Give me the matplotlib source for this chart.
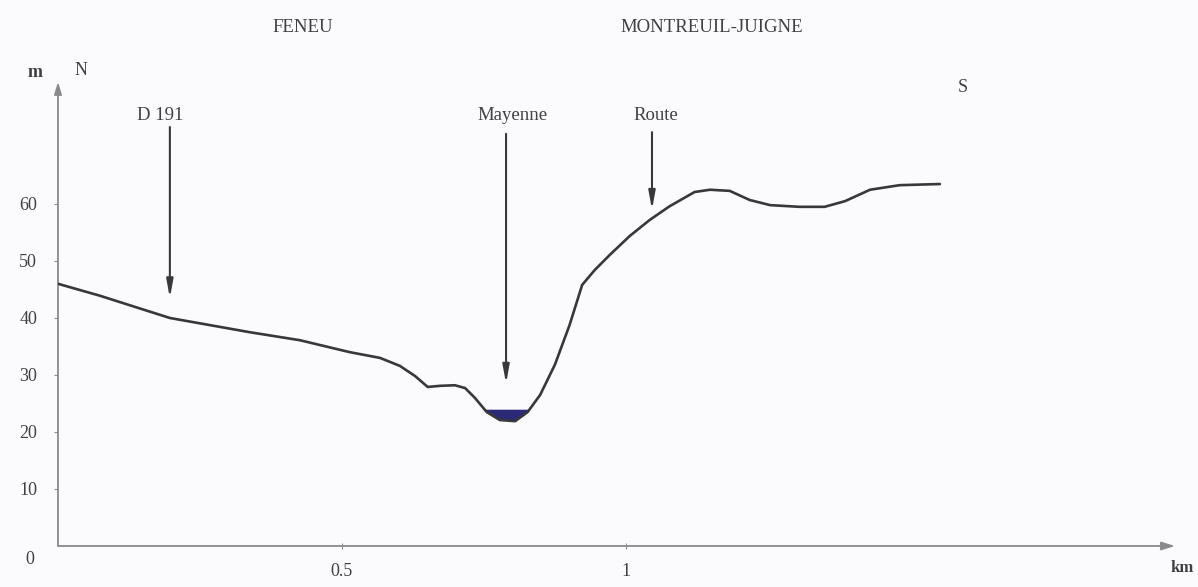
import numpy as np
import matplotlib.pyplot as plt

# ---------------------------------------------------------
# === Data (read from the scanned profile) ===
# ---------------------------------------------------------
dist_km = [0.000, 0.074, 0.197, 0.338, 0.426, 0.514, 0.567, 0.602, 0.629, 0.651,
           0.673, 0.699, 0.717, 0.734, 0.755, 0.778, 0.805, 0.827, 0.849, 0.875,
           0.901, 0.923, 0.945, 0.972, 1.007, 1.042, 1.077, 1.121, 1.148, 1.183,
           1.218, 1.254, 1.306, 1.350, 1.386, 1.430, 1.482, 1.553]
alt_m = [46.0, 43.9, 40.0, 37.5, 36.1, 34.0, 33.0, 31.6, 29.8, 27.9,
         28.1, 28.2, 27.7, 26.0, 23.5, 22.1, 21.9, 23.5, 26.5, 31.8,
         38.8, 45.8, 48.4, 51.1, 54.4, 57.2, 59.6, 62.1, 62.5, 62.3,
         60.7, 59.8, 59.5, 59.5, 60.5, 62.5, 63.3, 63.5]

water_level = 24.0

landmark_names = ["D 191", "Mayenne", "Route"]
landmark_x = [0.197, 0.789, 1.046]
landmark_top = [73.5, 72.3, 72.6]
landmark_tip = [43.5, 28.5, 59.0]
landmark_label_x = [0.180, 0.800, 1.052]

y_ticks = [10, 20, 30, 40, 50, 60]
x_ticks = [0.5, 1]
x_ticklabels = ["0.5", "1"]

places = ["FENEU", "MONTREUIL-JUIGNE"]
places_x = [0.431, 1.151]

# ---------------------------------------------------------
# === Figure ===
# ---------------------------------------------------------
plt.rcParams['font.family'] = ['Liberation Serif', 'DejaVu Serif']
W, H = 1198, 587
fig = plt.figure(figsize=(W / 100, H / 100), dpi=100)
fig.patch.set_facecolor('#fbfbfd')

X_MAX, Y_MAX = 1.967, 81.4
ax = fig.add_axes([58 / W, 41 / H, 1117 / W, 464 / H])
ax.set_xlim(0, X_MAX)
ax.set_ylim(0, Y_MAX)
ax.patch.set_alpha(0)
for s in ax.spines.values():
    s.set_visible(False)

axis_col = '#8a8a8e'
text_col = '#404044'
line_col = '#38383c'
FS = 13

# axes drawn as arrows
ax.annotate('', xy=(X_MAX, 0), xytext=(0, 0), annotation_clip=False,
            arrowprops=dict(arrowstyle='-|>,head_length=0.8,head_width=0.25',
                            color=axis_col, lw=1.3, mutation_scale=10,
                            shrinkA=0, shrinkB=0))
ax.annotate('', xy=(0, Y_MAX), xytext=(0, 0), annotation_clip=False,
            arrowprops=dict(arrowstyle='-|>,head_length=0.8,head_width=0.25',
                            color=axis_col, lw=1.3, mutation_scale=9,
                            shrinkA=0, shrinkB=0))

ax.set_yticks(y_ticks)
ax.set_xticks(x_ticks)
ax.set_xticklabels(x_ticklabels)
ax.tick_params(axis='y', direction='out', length=3, color=axis_col,
               pad=12, labelsize=FS, labelcolor=text_col)
ax.tick_params(axis='x', direction='inout', length=5, color=axis_col,
               pad=10, labelsize=FS, labelcolor=text_col)

ax.text(-0.049, -2.4, "0", ha='center', va='center', fontsize=FS,
        color=text_col, clip_on=False)
ax.text(-0.040, 83.0, "m", ha='center', va='center', fontsize=FS,
        color=text_col, fontweight='bold', clip_on=False)
ax.text(0.040, 83.5, "N", ha='center', va='center', fontsize=FS,
        color=text_col, clip_on=False)
ax.text(1.593, 80.5, "S", ha='center', va='center', fontsize=FS,
        color=text_col, clip_on=False)
fig.text(1194 / W, 1 - 568 / H, "km", ha='right', va='center', fontsize=12,
         color=text_col, fontweight='bold')

for name, px in zip(places, places_x):
    ax.text(px, 91.0, name, ha='center', va='center', fontsize=13.5,
            color=text_col, clip_on=False)

# profile
xd = np.linspace(dist_km[0], dist_km[-1], 2000)
yd = np.interp(xd, dist_km, alt_m)
ax.fill_between(xd, yd, water_level, where=yd < water_level,
                color='#2b2a78', lw=0, zorder=2)
ax.plot(dist_km, alt_m, color=line_col, lw=1.9, solid_joinstyle='round',
        solid_capstyle='round', zorder=3)

# landmarks
for name, lx, top, tip, tx in zip(landmark_names, landmark_x, landmark_top,
                                  landmark_tip, landmark_label_x):
    ax.annotate('', xy=(lx, tip), xytext=(lx, top),
                arrowprops=dict(arrowstyle='-|>,head_length=1.2,head_width=0.22',
                                color=line_col, lw=1.5, mutation_scale=9,
                                shrinkA=0, shrinkB=0))
    ax.text(tx, 75.6, name, ha='center', va='center', fontsize=13.5,
            color=text_col)

fig.savefig("out.png", dpi=100, facecolor=fig.get_facecolor())
